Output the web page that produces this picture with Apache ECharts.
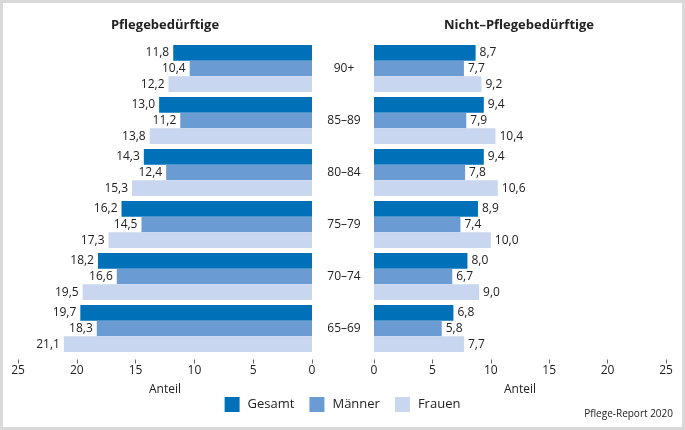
<!DOCTYPE html>
<html>
<head>
<meta charset="utf-8">
<script src="https://cdn.jsdelivr.net/npm/echarts@6/dist/echarts.min.js"></script>
<style>
  html, body { margin: 0; padding: 0; background: #fff; }
  #chart { width: 685px; height: 430px; }
</style>
</head>
<body>
<div id="chart"></div>
<script>
// Altersgruppen von oben nach unten
var ageGroups = ['90+', '85–89', '80–84', '75–79', '70–74', '65–69'];

// Pflegebedürftige
var pfGesamt = [11.8, 13.0, 14.3, 16.2, 18.2, 19.7];
var pfMaenner = [10.4, 11.2, 12.4, 14.5, 16.6, 18.3];
var pfFrauen = [12.2, 13.8, 15.3, 17.3, 19.5, 21.1];

// Nicht-Pflegebedürftige
var npGesamt = [8.7, 9.4, 9.4, 8.9, 8.0, 6.8];
var npMaenner = [7.7, 7.9, 7.8, 7.4, 6.7, 5.8];
var npFrauen = [9.2, 10.4, 10.6, 10.0, 9.0, 7.7];

var font = '"Open Sans", "Noto Sans", sans-serif';
var colors = { gesamt: '#0070b8', maenner: '#6a9bd3', frauen: '#c8d6ef' };

function fmt(p) {
    return p.value.toFixed(1).replace('.', ',');
}

function barSeries(name, data, idx, color, side) {
    return {
        name: name,
        type: 'bar',
        xAxisIndex: idx,
        yAxisIndex: idx,
        data: data,
        barGap: '0%',
        barCategoryGap: '10%',
        itemStyle: { color: color },
        label: {
            show: true,
            position: side,
            distance: 4,
            formatter: fmt,
            color: '#222',
            fontFamily: font,
            fontSize: 12
        },
        animation: false
    };
}

function xAxisDef(idx, inverse) {
    return {
        type: 'value',
        gridIndex: idx,
        min: 0,
        max: 25,
        interval: 5,
        inverse: inverse,
        offset: 5,
        name: 'Anteil',
        nameLocation: 'middle',
        nameGap: 24,
        nameTextStyle: { color: '#222', fontFamily: font, fontSize: 12 },
        axisLine: { show: false },
        axisTick: { show: true, length: 4, lineStyle: { color: '#666' } },
        axisLabel: { color: '#222', fontFamily: font, fontSize: 12, margin: 5 },
        splitLine: { show: false }
    };
}

var chart = echarts.init(document.getElementById('chart'));
chart.setOption({
    animation: false,
    legend: {
        data: ['Gesamt', 'Männer', 'Frauen'],
        left: 'center',
        top: 392,
        itemWidth: 15,
        itemHeight: 15,
        itemGap: 15,
        icon: 'rect',
        textStyle: { color: '#222', fontFamily: font, fontSize: 13, padding: [0, 0, 0, 3] }
    },
    grid: [
        { left: 18, right: 373, top: 42.5, height: 312 },
        { left: 374, right: 19, top: 42.5, height: 312 }
    ],
    xAxis: [xAxisDef(0, true), xAxisDef(1, false)],
    yAxis: [
        {
            type: 'category',
            gridIndex: 0,
            data: ageGroups,
            inverse: true,
            position: 'right',
            axisLine: { show: false },
            axisTick: { show: false },
            axisLabel: { align: 'center', margin: 32, color: '#222', fontFamily: font, fontSize: 12 }
        },
        {
            type: 'category',
            gridIndex: 1,
            data: ageGroups,
            inverse: true,
            axisLine: { show: false },
            axisTick: { show: false },
            axisLabel: { show: false }
        }
    ],
    series: [
        barSeries('Gesamt', pfGesamt, 0, colors.gesamt, 'left'),
        barSeries('Männer', pfMaenner, 0, colors.maenner, 'left'),
        barSeries('Frauen', pfFrauen, 0, colors.frauen, 'left'),
        barSeries('Gesamt', npGesamt, 1, colors.gesamt, 'right'),
        barSeries('Männer', npMaenner, 1, colors.maenner, 'right'),
        barSeries('Frauen', npFrauen, 1, colors.frauen, 'right')
    ],
    graphic: [
        {
            type: 'rect',
            shape: { x: 1.5, y: 1.5, width: 682, height: 427 },
            style: { fill: 'none', stroke: '#d9d9d9', lineWidth: 3 },
            silent: true
        },
        {
            type: 'text', x: 165, y: 25,
            style: { text: 'Pflegebedürftige', align: 'center', verticalAlign: 'middle',
                     fill: '#222', font: 'bold 13px ' + font }
        },
        {
            type: 'text', x: 519, y: 25,
            style: { text: 'Nicht–Pflegebedürftige', align: 'center', verticalAlign: 'middle',
                     fill: '#222', font: 'bold 13px ' + font }
        },
        {
            type: 'text', x: 673, y: 414,
            style: { text: 'Pflege-Report 2020', align: 'right', verticalAlign: 'middle',
                     fill: '#222', font: '10px ' + font }
        }
    ]
});
</script>
</body>
</html>
